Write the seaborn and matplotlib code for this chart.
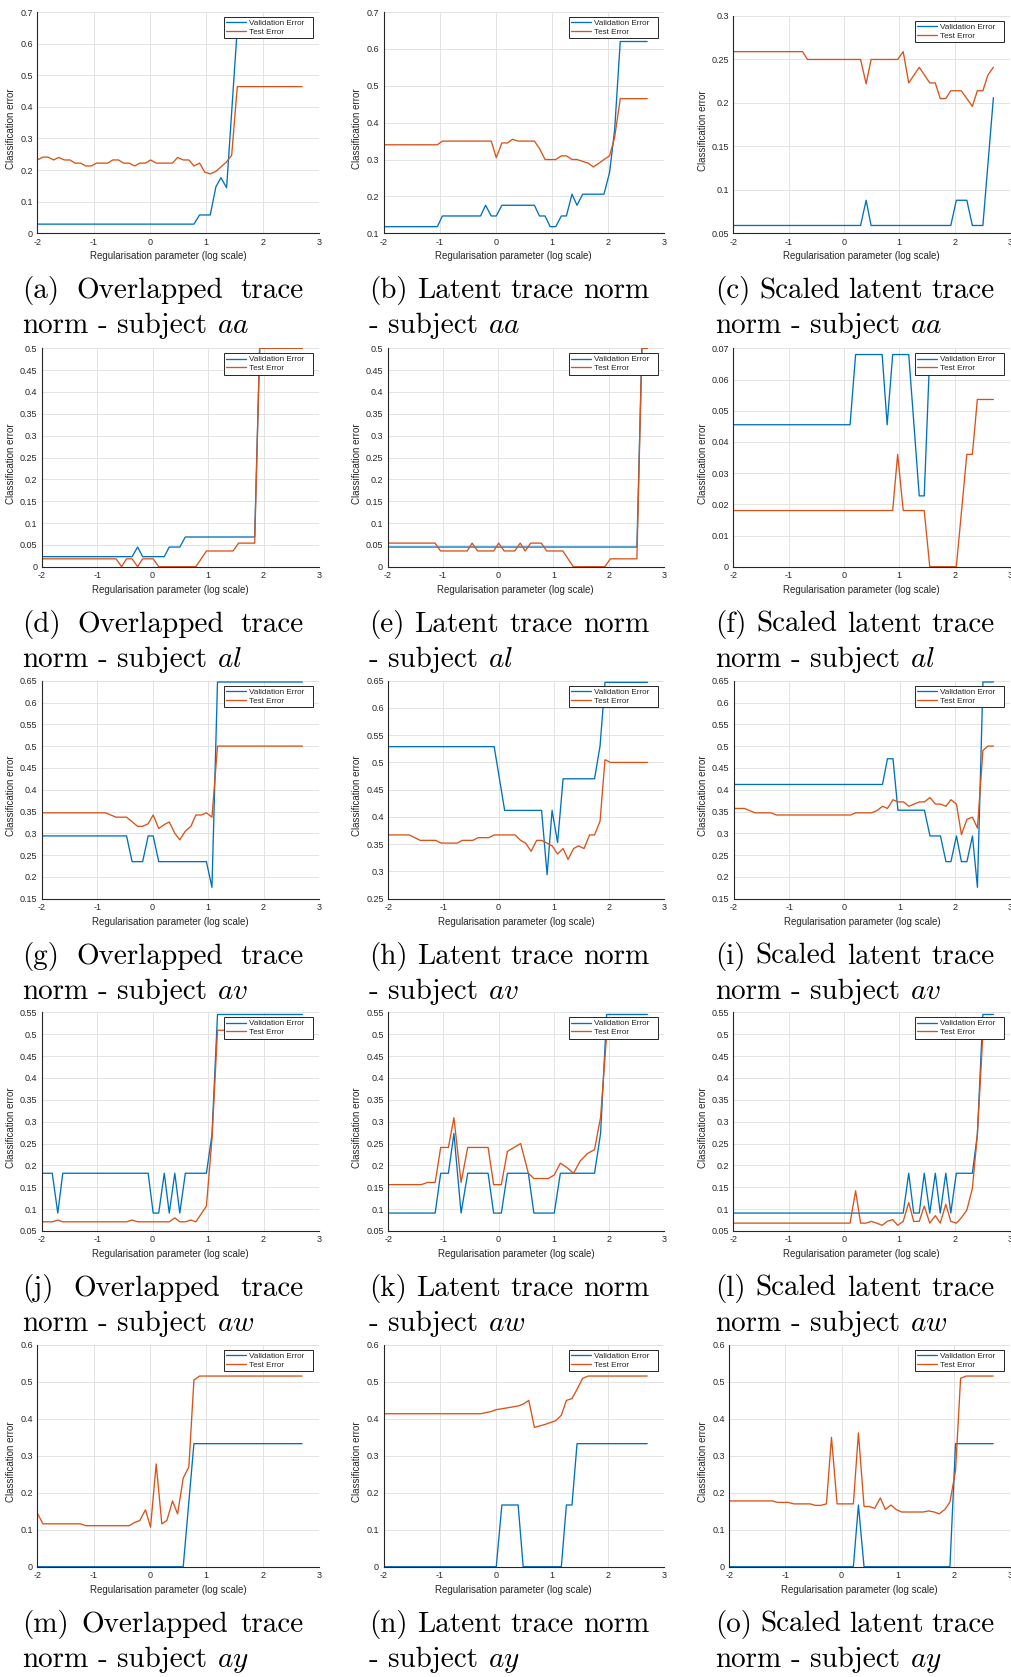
import numpy as np
import pandas as pd
import matplotlib
matplotlib.use("Agg")
import matplotlib.pyplot as plt
from matplotlib.ticker import FuncFormatter
import seaborn as sns

# ---------------- data (vertices) ----------------
a_val_x = [-2, 0.78, 0.88, 1.07, 1.17, 1.26, 1.36, 1.55, 2.7]
a_val_y = [0.029, 0.029, 0.058, 0.058, 0.147, 0.176, 0.144, 0.65, 0.65]
a_test_x = [-2.0, -1.9, -1.81, -1.71, -1.62, -1.52, -1.42, -1.33, -1.23, -1.14, -1.04, -0.95, -0.85,
            -0.75, -0.66, -0.56, -0.47, -0.37, -0.27, -0.18, -0.08, 0.01, 0.11, 0.21, 0.3, 0.4,
            0.49, 0.59, 0.69, 0.78, 0.88, 0.97, 1.07, 1.17, 1.26, 1.36, 1.45, 1.55, 2.7]
a_test_y = [0.232, 0.241, 0.241, 0.232, 0.240, 0.232, 0.232, 0.222, 0.222, 0.213, 0.213, 0.222, 0.222,
            0.222, 0.232, 0.232, 0.222, 0.222, 0.213, 0.222, 0.222, 0.232, 0.222, 0.222, 0.222, 0.222,
            0.240, 0.232, 0.232, 0.213, 0.222, 0.194, 0.188, 0.196, 0.21, 0.226, 0.247, 0.464, 0.464]

b_val_x = [-2, -1.04, -0.95, -0.27, -0.18, -0.08, 0.01, 0.11, 0.69, 0.78, 0.88, 0.97, 1.07, 1.17,
           1.26, 1.36, 1.45, 1.55, 1.93, 2.03, 2.12, 2.22, 2.7]
b_val_y = [0.118, 0.118, 0.147, 0.147, 0.176, 0.147, 0.147, 0.176, 0.176, 0.147, 0.147, 0.118, 0.118,
           0.147, 0.147, 0.206, 0.176, 0.206, 0.206, 0.265, 0.38, 0.62, 0.62]
b_test_x = [-2, -1.04, -0.95, -0.08, 0.01, 0.11, 0.21, 0.3, 0.4, 0.69, 0.78, 0.88, 1.07, 1.17, 1.26,
            1.36, 1.45, 1.55, 1.65, 1.74, 1.84, 1.93, 2.03, 2.12, 2.22, 2.7]
b_test_y = [0.34, 0.34, 0.35, 0.35, 0.305, 0.345, 0.345, 0.355, 0.35, 0.35, 0.33, 0.30, 0.30, 0.31,
            0.31, 0.30, 0.30, 0.295, 0.29, 0.28, 0.29, 0.30, 0.31, 0.36, 0.465, 0.465]

c_val_x = [-2, 0.3, 0.4, 0.49, 1.93, 2.03, 2.22, 2.32, 2.51, 2.7]
c_val_y = [0.059, 0.059, 0.088, 0.059, 0.059, 0.088, 0.088, 0.059, 0.059, 0.206]
c_test_x = [-2, -0.75, -0.66, 0.3, 0.4, 0.49, 0.97, 1.07, 1.17, 1.36, 1.55, 1.65, 1.74, 1.84, 1.93,
            2.12, 2.32, 2.41, 2.51, 2.6, 2.7]
c_test_y = [0.259, 0.259, 0.25, 0.25, 0.222, 0.25, 0.25, 0.259, 0.223, 0.241, 0.223, 0.223, 0.205,
            0.205, 0.214, 0.214, 0.196, 0.214, 0.214, 0.232, 0.241]

d_val_x = [-2, -0.37, -0.27, -0.18, 0.21, 0.3, 0.49, 0.59, 1.84, 1.93, 2.7]
d_val_y = [0.023, 0.023, 0.045, 0.023, 0.023, 0.045, 0.045, 0.068, 0.068, 0.5, 0.5]
d_test_x = [-2, -0.66, -0.56, -0.47, -0.37, -0.27, -0.18, 0.01, 0.11, 0.78, 0.97, 1.45, 1.55, 1.84,
            1.93, 2.7]
d_test_y = [0.018, 0.018, 0.0, 0.018, 0.018, 0.0, 0.018, 0.018, 0.0, 0.0, 0.036, 0.036, 0.054, 0.054,
            0.5, 0.5]

e_val_x = [-2, 2.51, 2.6, 2.7]
e_val_y = [0.045, 0.045, 0.5, 0.5]
e_test_x = [-2, -1.14, -1.04, -0.56, -0.47, -0.37, -0.08, 0.01, 0.11, 0.3, 0.4, 0.49, 0.59, 0.78,
            0.88, 1.17, 1.36, 1.93, 2.03, 2.51, 2.6, 2.7]
e_test_y = [0.054, 0.054, 0.036, 0.036, 0.054, 0.036, 0.036, 0.054, 0.036, 0.036, 0.054, 0.036,
            0.054, 0.054, 0.036, 0.036, 0.0, 0.0, 0.018, 0.018, 0.5, 0.5]

f_val_x = [-2, 0.11, 0.21, 0.69, 0.78, 0.88, 1.17, 1.36, 1.45, 1.55, 2.7]
f_val_y = [0.0455, 0.0455, 0.068, 0.068, 0.0455, 0.068, 0.068, 0.0227, 0.0227, 0.068, 0.068]
f_test_x = [-2, 0.88, 0.97, 1.07, 1.45, 1.55, 2.03, 2.22, 2.32, 2.41, 2.7]
f_test_y = [0.018, 0.018, 0.036, 0.018, 0.018, 0.0, 0.0, 0.036, 0.036, 0.0536, 0.0536]

g_val_x = [-2, -0.47, -0.37, -0.18, -0.08, 0.01, 0.11, 0.97, 1.07, 1.17, 2.7]
g_val_y = [0.294, 0.294, 0.235, 0.235, 0.294, 0.294, 0.235, 0.235, 0.176, 0.647, 0.647]
g_test_x = [-2, -0.85, -0.66, -0.47, -0.27, -0.18, -0.08, 0.01, 0.11, 0.21, 0.3, 0.4, 0.49, 0.59,
            0.69, 0.78, 0.88, 0.97, 1.07, 1.17, 2.7]
g_test_y = [0.347, 0.347, 0.337, 0.337, 0.316, 0.316, 0.322, 0.342, 0.311, 0.32, 0.326, 0.30, 0.285,
            0.305, 0.316, 0.342, 0.342, 0.347, 0.337, 0.50, 0.50]

h_val_x = [-2, -0.08, 0.11, 0.78, 0.88, 0.97, 1.07, 1.17, 1.74, 1.84, 1.93, 2.7]
h_val_y = [0.529, 0.529, 0.412, 0.412, 0.294, 0.412, 0.353, 0.47, 0.47, 0.53, 0.647, 0.647]
h_test_x = [-2, -1.62, -1.42, -1.14, -1.04, -0.75, -0.66, -0.47, -0.37, -0.18, -0.08, 0.3, 0.4, 0.49,
            0.59, 0.69, 0.78, 0.88, 0.97, 1.07, 1.17, 1.26, 1.36, 1.45, 1.55, 1.65, 1.74, 1.84, 1.93,
            2.03, 2.7]
h_test_y = [0.367, 0.367, 0.357, 0.357, 0.352, 0.352, 0.357, 0.357, 0.362, 0.362, 0.367, 0.367, 0.357,
            0.352, 0.337, 0.357, 0.357, 0.352, 0.347, 0.332, 0.342, 0.322, 0.342, 0.347, 0.342, 0.367,
            0.367, 0.392, 0.505, 0.50, 0.50]

i_val_x = [-2, 0.69, 0.78, 0.88, 0.97, 1.45, 1.55, 1.74, 1.84, 1.93, 2.03, 2.12, 2.22, 2.32, 2.41,
           2.51, 2.7]
i_val_y = [0.412, 0.412, 0.471, 0.471, 0.353, 0.353, 0.294, 0.294, 0.235, 0.235, 0.294, 0.235, 0.235,
           0.294, 0.176, 0.647, 0.647]
i_test_x = [-2, -1.81, -1.62, -1.33, -1.23, 0.11, 0.21, 0.49, 0.59, 0.69, 0.78, 0.88, 0.97, 1.07,
            1.17, 1.26, 1.36, 1.45, 1.55, 1.65, 1.74, 1.84, 1.93, 2.03, 2.12, 2.22, 2.32, 2.41, 2.51,
            2.6, 2.7]
i_test_y = [0.357, 0.357, 0.347, 0.347, 0.342, 0.342, 0.347, 0.347, 0.352, 0.362, 0.357, 0.377, 0.372,
            0.372, 0.362, 0.367, 0.372, 0.372, 0.382, 0.367, 0.367, 0.362, 0.377, 0.367, 0.297, 0.332,
            0.337, 0.312, 0.49, 0.50, 0.50]

j_val_x = [-2, -1.81, -1.71, -1.62, -0.08, 0.01, 0.11, 0.21, 0.3, 0.4, 0.49, 0.59, 0.97, 1.07, 1.17, 2.7]
j_val_y = [0.182, 0.182, 0.091, 0.182, 0.182, 0.091, 0.091, 0.182, 0.091, 0.182, 0.091, 0.182, 0.182,
           0.27, 0.545, 0.545]
j_test_x = [-2, -1.81, -1.71, -1.62, -0.47, -0.37, -0.27, 0.3, 0.4, 0.49, 0.59, 0.69, 0.78, 0.97,
            1.07, 1.17, 2.7]
j_test_y = [0.071, 0.071, 0.075, 0.071, 0.071, 0.075, 0.071, 0.071, 0.08, 0.071, 0.071, 0.075, 0.071,
            0.107, 0.26, 0.509, 0.509]

k_val_x = [-2, -1.15, -1.05, -0.91, -0.81, -0.68, -0.56, -0.19, -0.09, 0.05, 0.16, 0.54, 0.64, 1.01,
           1.12, 1.74, 1.85, 1.96, 2.7]
k_val_y = [0.091, 0.091, 0.182, 0.182, 0.273, 0.091, 0.182, 0.182, 0.091, 0.091, 0.182, 0.182, 0.091,
           0.091, 0.182, 0.182, 0.273, 0.545, 0.545]
k_test_x = [-2, -1.4, -1.29, -1.15, -1.05, -0.91, -0.81, -0.68, -0.56, -0.19, -0.09, 0.05, 0.16, 0.28,
            0.4, 0.54, 0.64, 0.9, 1.01, 1.12, 1.24, 1.36, 1.48, 1.61, 1.74, 1.85, 1.96, 2.7]
k_test_y = [0.156, 0.156, 0.161, 0.161, 0.241, 0.241, 0.309, 0.161, 0.241, 0.241, 0.156, 0.156, 0.232,
            0.241, 0.25, 0.182, 0.17, 0.17, 0.178, 0.205, 0.195, 0.182, 0.21, 0.227, 0.236, 0.31,
            0.50, 0.50]

l_val_x = [-2, 1.07, 1.17, 1.26, 1.36, 1.45, 1.55, 1.65, 1.74, 1.84, 1.93, 2.03, 2.32, 2.41, 2.51, 2.7]
l_val_y = [0.091, 0.091, 0.182, 0.091, 0.091, 0.182, 0.091, 0.182, 0.091, 0.182, 0.091, 0.182, 0.182,
           0.27, 0.545, 0.545]
l_test_x = [-2, 0.11, 0.21, 0.3, 0.4, 0.49, 0.59, 0.69, 0.78, 0.88, 0.97, 1.07, 1.17, 1.26, 1.36, 1.45,
            1.55, 1.65, 1.74, 1.84, 1.93, 2.03, 2.12, 2.22, 2.32, 2.41, 2.51, 2.7]
l_test_y = [0.068, 0.068, 0.142, 0.068, 0.068, 0.072, 0.068, 0.063, 0.072, 0.076, 0.063, 0.072, 0.115,
            0.072, 0.072, 0.107, 0.068, 0.085, 0.068, 0.111, 0.072, 0.068, 0.08, 0.098, 0.147, 0.27,
            0.50, 0.50]

m_val_x = [-2, 0.59, 0.78, 2.7]
m_val_y = [0.0, 0.0, 0.333, 0.333]
m_test_x = [-2, -1.9, -1.23, -1.14, -0.37, -0.27, -0.18, -0.08, 0.01, 0.11, 0.21, 0.3, 0.4, 0.49,
            0.59, 0.69, 0.78, 0.88, 2.7]
m_test_y = [0.145, 0.116, 0.116, 0.111, 0.111, 0.12, 0.125, 0.154, 0.107, 0.278, 0.116, 0.125, 0.178,
            0.143, 0.24, 0.27, 0.505, 0.516, 0.516]

n_val_x = [-2, 0.01, 0.11, 0.4, 0.49, 1.17, 1.26, 1.36, 1.45, 2.7]
n_val_y = [0.0, 0.0, 0.167, 0.167, 0.0, 0.0, 0.167, 0.167, 0.333, 0.333]
n_test_x = [-2, -0.27, -0.08, 0.01, 0.21, 0.4, 0.49, 0.59, 0.69, 0.88, 0.97, 1.07, 1.17, 1.26, 1.36,
            1.45, 1.55, 1.65, 2.7]
n_test_y = [0.414, 0.414, 0.42, 0.425, 0.43, 0.435, 0.44, 0.45, 0.377, 0.385, 0.39, 0.395, 0.41, 0.45,
            0.455, 0.48, 0.51, 0.516, 0.516]

o_val_x = [-2, 0.21, 0.3, 0.4, 1.93, 2.03, 2.7]
o_val_y = [0.0, 0.0, 0.167, 0.0, 0.0, 0.333, 0.333]
o_test_x = [-2, -1.23, -1.14, -0.95, -0.85, -0.56, -0.47, -0.37, -0.27, -0.18, -0.08, 0.21, 0.3, 0.4,
            0.49, 0.59, 0.69, 0.78, 0.88, 0.97, 1.07, 1.45, 1.55, 1.65, 1.74, 1.84, 1.93, 2.03, 2.12,
            2.22, 2.7]
o_test_y = [0.178, 0.178, 0.174, 0.174, 0.17, 0.17, 0.166, 0.166, 0.17, 0.35, 0.17, 0.17, 0.362, 0.163,
            0.163, 0.158, 0.186, 0.155, 0.167, 0.155, 0.148, 0.148, 0.151, 0.148, 0.143, 0.155, 0.175,
            0.26, 0.51, 0.516, 0.516]

letters = list("abcdefghijklmno")
subjects = ["aa", "al", "av", "aw", "ay"]
y_limits = [(0, 0.7, 0.1), (0.1, 0.7, 0.1), (0.05, 0.3, 0.05),
            (0, 0.5, 0.05), (0, 0.5, 0.05), (0, 0.07, 0.01),
            (0.15, 0.65, 0.05), (0.25, 0.65, 0.05), (0.15, 0.65, 0.05),
            (0.05, 0.55, 0.05), (0.05, 0.55, 0.05), (0.05, 0.55, 0.05),
            (0, 0.6, 0.1), (0, 0.6, 0.1), (0, 0.6, 0.1)]
series = [(a_val_x, a_val_y, a_test_x, a_test_y), (b_val_x, b_val_y, b_test_x, b_test_y),
          (c_val_x, c_val_y, c_test_x, c_test_y), (d_val_x, d_val_y, d_test_x, d_test_y),
          (e_val_x, e_val_y, e_test_x, e_test_y), (f_val_x, f_val_y, f_test_x, f_test_y),
          (g_val_x, g_val_y, g_test_x, g_test_y), (h_val_x, h_val_y, h_test_x, h_test_y),
          (i_val_x, i_val_y, i_test_x, i_test_y), (j_val_x, j_val_y, j_test_x, j_test_y),
          (k_val_x, k_val_y, k_test_x, k_test_y), (l_val_x, l_val_y, l_test_x, l_test_y),
          (m_val_x, m_val_y, m_test_x, m_test_y), (n_val_x, n_val_y, n_test_x, n_test_y),
          (o_val_x, o_val_y, o_test_x, o_test_y)]

# ---------------- style ----------------
sns.set_style("white")
plt.rcParams['font.family'] = ['Liberation Sans', 'DejaVu Sans']
plt.rcParams['mathtext.fontset'] = 'cm'
plt.rcParams['axes.unicode_minus'] = False

BLUE = "#0072BD"
ORANGE = "#D95319"
AXC = "#262626"
GRIDC = "#e3e3e3"

W, H = 1011, 1677
fig = plt.figure(figsize=(W / 100, H / 100), dpi=100)
fig.patch.set_facecolor("white")

row_top = [12, 348.3, 680.7, 1012.3, 1345]
row_bot = [233.3, 566.7, 898.7, 1231, 1566.7]
lefts = [[37.3, 383.5, 733.3], [41.7, 387.5, 733.3], [41.7, 388.3, 734],
         [41.7, 388.3, 733.3], [37.3, 383.5, 729.3]]
rights = [319, 664, 1010]
ylab_right = [16.5, 361.5, 707.5]
cap_left = [22, 369, 715]
cap_right = [303.5, 649, 995]

fmt = FuncFormatter(lambda v, p: f"{round(v, 4):g}")

caption_jobs = []
for idx in range(15):
    r, c = divmod(idx, 3)
    top = row_top[r] + (4 if idx == 2 else 0)
    bot = row_bot[r]
    L, R = lefts[r][c], rights[c]
    wpx, hpx = R - L, bot - top
    ax = fig.add_axes([L / W, 1 - bot / H, wpx / W, hpx / H])
    vx, vy, tx, ty = series[idx]
    sns.lineplot(data=pd.DataFrame({"x": vx, "y": vy}), x="x", y="y", ax=ax, color=BLUE,
                 linewidth=0.95, label="Validation Error", estimator=None, sort=False)
    sns.lineplot(data=pd.DataFrame({"x": tx, "y": ty}), x="x", y="y", ax=ax, color=ORANGE,
                 linewidth=0.95, label="Test Error", estimator=None, sort=False)
    y0, y1, ys = y_limits[idx]
    ax.set_xlim(-2, 3)
    ax.set_ylim(y0, y1)
    ax.set_xticks(np.arange(-2, 4, 1))
    ax.set_yticks(np.arange(y0, y1 + ys / 2, ys))
    ax.xaxis.set_major_formatter(fmt)
    ax.yaxis.set_major_formatter(fmt)
    ax.grid(True, color=GRIDC, linewidth=0.7)
    ax.set_axisbelow(True)
    for s in ["top", "right"]:
        ax.spines[s].set_visible(False)
    for s in ["left", "bottom"]:
        ax.spines[s].set_color(AXC)
        ax.spines[s].set_linewidth(0.8)
    ax.tick_params(direction="in", length=2.5, width=0.6, colors=AXC, labelsize=6.5, pad=3.2)
    ax.set_xlabel("Regularisation parameter (log scale)", fontsize=7, color=AXC)
    ax.set_ylabel("Classification error", fontsize=7, color=AXC)
    ax.xaxis.set_label_coords(0.5 - 10 / wpx, -18 / hpx)
    ax.yaxis.set_label_coords((ylab_right[c] - L) / wpx, 0.5 - 6 / hpx)
    # legend box: ~89 px wide, 6 px from the right edge, 5 px below the top
    lw_px, rin, tin = 89, 6.3, 5
    leg = ax.legend(loc="upper left", mode="expand",
                    bbox_to_anchor=(1 - (rin + lw_px) / wpx, 0, lw_px / wpx, 1 - tin / hpx),
                    borderaxespad=0, fontsize=5.9, frameon=True, fancybox=False, framealpha=1,
                    edgecolor=AXC, borderpad=0.3, labelspacing=0.12,
                    handlelength=2.4, handletextpad=0.35)
    leg.get_frame().set_linewidth(0.7)
    for t in leg.get_texts():
        t.set_color(AXC)

    letter = f"({letters[idx]})"
    subj = f"${subjects[r]}$"
    if c == 0:
        line1 = [letter, "Overlapped", "trace"]
        line2 = ["norm", "-", "subject", subj]
    elif c == 1:
        line1 = [letter, "Latent", "trace", "norm"]
        line2 = ["-", "subject", subj]
    else:
        line1 = [letter, "Scaled", "latent", "trace"]
        line2 = ["norm", "-", "subject", subj]
    caption_jobs.append((line1, cap_left[c], cap_right[c], bot + 65, True))
    caption_jobs.append((line2, cap_left[c], cap_right[c], bot + 100, False))

CAPFS = 21
renderer = fig.canvas.get_renderer()
space_px = 0.333 * CAPFS * 100 / 72
for words, left, right, ypx, justify in caption_jobs:
    texts = [fig.text(0, 1 - ypx / H, w, fontsize=CAPFS, family="cmr10", va="baseline",
                      ha="left", color="black") for w in words]
    widths = [t.get_window_extent(renderer).width for t in texts]
    gap = (right - left - sum(widths)) / (len(words) - 1) if justify else space_px
    x = left
    for t, w in zip(texts, widths):
        t.set_x(x / W)
        x += w + gap

fig.savefig("out.png", dpi=100, facecolor="white")
